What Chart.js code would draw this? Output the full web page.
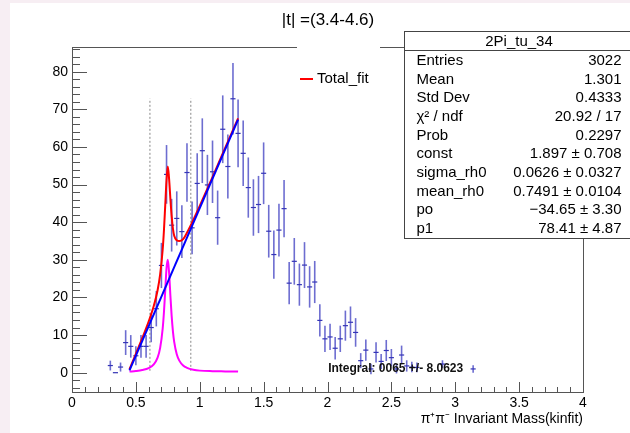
<!DOCTYPE html>
<html>
<head>
<meta charset="utf-8">
<script src="https://cdn.jsdelivr.net/npm/chart.js@4.4.1/dist/chart.umd.min.js"></script>
<style>
  html, body { margin: 0; padding: 0; background: #f7eef3; }
  #wrap { position: absolute; left: 10px; top: 3px; width: 620px; height: 430px; background: #fff; }
</style>
</head>
<body>
<div id="wrap"><canvas id="massChart" width="620" height="430"></canvas></div>
<script>
// histogram 2Pi_tu_34, bin width 0.04
const binWidth = 0.04;
const binCenters = [0.30, 0.34, 0.38, 0.42, 0.46, 0.50, 0.54, 0.58, 0.62, 0.66,
  0.70, 0.74, 0.78, 0.82, 0.86, 0.90, 0.94, 0.98, 1.02, 1.06,
  1.10, 1.14, 1.18, 1.22, 1.26, 1.30, 1.34, 1.38, 1.42, 1.46,
  1.50, 1.54, 1.58, 1.62, 1.66, 1.70, 1.74, 1.78, 1.82, 1.86,
  1.90, 1.94, 1.98, 2.02, 2.06, 2.10, 2.14, 2.18, 2.22, 2.26,
  2.30, 2.34, 2.38, 2.42, 2.46, 2.50, 2.54, 2.58, 2.62, 2.66,
  2.70, 2.90, 3.14];
const binCounts = [1.9, 0, 1.5, 8.0, 7.0, 4.5, 7.0, 7.0, 12.0, 17.0,
  28.5, 52.7, 39.2, 41.0, 37.5, 53.2, 38.5, 50.3, 59.0, 49.9,
  53.4, 41.2, 64.7, 54.8, 72.8, 63.6, 58.3, 49.2, 43.9, 44.7,
  53.0, 37.6, 31.4, 37.9, 43.6, 23.8, 29.6, 23.4, 28.6, 22.8,
  24.1, 13.9, 9.0, 9.5, 6.5, 9.0, 12.5, 13.4, 10.7, 3.2,
  6.0, 1.0, 5.4, 3.0, 5.9, 4.0, 1.0, 4.7, 1.8, 1.5,
  1.4, 2.3, 1.0];
const binErrors = [1.3, 0, 1.2, 3.3, 3.0, 2.5, 3.0, 3.0, 3.9, 4.7,
  6.0, 7.8, 7.0, 7.2, 7.0, 7.8, 7.0, 8.0, 8.6, 8.0,
  8.3, 7.2, 9.0, 8.5, 9.5, 9.0, 8.7, 8.0, 7.5, 7.6,
  8.2, 7.0, 6.4, 7.0, 7.6, 5.6, 6.2, 5.6, 6.1, 5.5,
  5.6, 4.3, 3.5, 3.5, 3.0, 3.5, 4.0, 4.2, 3.8, 2.0,
  2.8, 1.4, 2.7, 2.0, 2.8, 2.3, 1.2, 2.5, 1.5, 1.4,
  1.3, 1.0, 1.0];

// fit curves
const fitMass = [0.45, 0.50, 0.55, 0.60, 0.64, 0.67, 0.69, 0.71, 0.72, 0.73,
  0.74, 0.75, 0.76, 0.77, 0.78, 0.79, 0.80, 0.82, 0.84, 0.87,
  0.90, 0.95, 1.00, 1.10, 1.20, 1.30];
const totalFit = [0.9, 5.0, 9.2, 13.6, 17.7, 21.9, 26.1, 32.8, 38.0, 44.6,
  51.2, 54.8, 51.5, 46.3, 41.6, 38.3, 36.4, 35.2, 35.0, 35.5,
  37.2, 40.6, 44.3, 52.0, 59.8, 67.6];
const rhoFit = [0.3, 0.45, 0.7, 1.2, 2.2, 4.0, 6.6, 11.8, 16.2, 22.0,
  27.8, 30.0, 26.6, 20.6, 15.1, 11.0, 8.2, 4.9, 3.2, 1.9,
  1.3, 0.8, 0.55, 0.4, 0.35, 0.3];
const bkgMass = [0.45, 1.30];
const bkgFit = [0.63, 67.28];

// dotted window lines
const cutMass = [0.61, 0.93];
const cutRange = [0.5, 72.9];

const statLabels = ['Entries', 'Mean', 'Std Dev', 'χ² / ndf', 'Prob', 'const',
  'sigma_rh0', 'mean_rh0', 'po', 'p1'];
const statValues = ['3022', '1.301', '0.4333', '20.92 / 17', '0.2297', '1.897 ± 0.708',
  '0.0626 ± 0.0327', '0.7491 ± 0.0104', '−34.65 ± 3.30', '78.41 ± 4.87'];

const FONT = "'Liberation Sans', Arial, sans-serif";
Chart.defaults.font.family = FONT;

const pts = (xs, ys) => xs.map((x, i) => ({ x: x, y: ys[i] }));

const errorBars = {
  id: 'errorBars',
  beforeDatasetsDraw(chart) {
    const ctx = chart.ctx, xs = chart.scales.x, ys = chart.scales.y;
    ctx.save();
    binCenters.forEach((c, i) => {
      const px = xs.getPixelForValue(c);
      const py = ys.getPixelForValue(binCounts[i]);
      ctx.strokeStyle = '#3434b4';
      ctx.lineWidth = 1.2;
      ctx.beginPath();
      ctx.moveTo(xs.getPixelForValue(c - binWidth / 2), py);
      ctx.lineTo(xs.getPixelForValue(c + binWidth / 2), py);
      ctx.stroke();
      if (binErrors[i] > 0) {
        ctx.strokeStyle = 'rgba(52,52,190,0.72)';
        ctx.lineWidth = 1.6;
        ctx.beginPath();
        ctx.moveTo(px, ys.getPixelForValue(binCounts[i] + binErrors[i]));
        ctx.lineTo(px, ys.getPixelForValue(binCounts[i] - binErrors[i]));
        ctx.stroke();
      }
    });
    ctx.restore();
  }
};

const frameAndBoxes = {
  id: 'frameAndBoxes',
  afterDatasetsDraw(chart) {
    const ctx = chart.ctx, a = chart.chartArea;
    const xs = chart.scales.x, ys = chart.scales.y;
    ctx.save();
    // frame
    ctx.strokeStyle = '#555';
    ctx.lineWidth = 1;
    ctx.strokeRect(Math.round(a.left) + 0.5, Math.round(a.top) + 0.5,
      Math.round(a.right - a.left), Math.round(a.bottom - a.top));
    // ticks, inside the frame
    ctx.beginPath();
    for (let v = -4; v <= 86; v += 2) {
      const py = Math.round(ys.getPixelForValue(v)) + 0.5;
      const len = v % 10 === 0 ? 15 : 8;
      ctx.moveTo(a.left, py);
      ctx.lineTo(a.left + len, py);
    }
    for (let k = 0; k <= 40; k++) {
      const px = Math.round(xs.getPixelForValue(k / 10)) + 0.5;
      const len = k % 5 === 0 ? 10 : 5;
      ctx.moveTo(px, a.bottom);
      ctx.lineTo(px, a.bottom - len);
    }
    ctx.stroke();

    // integral label
    ctx.fillStyle = '#111';
    ctx.font = 'bold 12px ' + FONT;
    ctx.textAlign = 'left';
    ctx.textBaseline = 'middle';
    ctx.fillText('Integral: 0065 +/- 8.0623', xs.getPixelForValue(2.005), ys.getPixelForValue(1.0));

    // legend
    ctx.fillStyle = '#fff';
    ctx.fillRect(287, 38, 83, 50);
    ctx.strokeStyle = '#ff0000';
    ctx.lineWidth = 2;
    ctx.beginPath();
    ctx.moveTo(290, 76);
    ctx.lineTo(303, 76);
    ctx.stroke();
    ctx.fillStyle = '#000';
    ctx.font = '15px ' + FONT;
    ctx.fillText('Total_fit', 307, 76);

    // stats box
    ctx.fillStyle = '#fff';
    ctx.fillRect(394.5, 28.5, 230, 207);
    ctx.strokeStyle = '#444';
    ctx.lineWidth = 1;
    ctx.strokeRect(394.5, 28.5, 230, 207);
    ctx.beginPath();
    ctx.moveTo(394.5, 47.5);
    ctx.lineTo(624, 47.5);
    ctx.stroke();
    ctx.fillStyle = '#000';
    ctx.textAlign = 'center';
    ctx.fillText('2Pi_tu_34', 509, 39);
    statLabels.forEach((lab, i) => {
      const y = 57.7 + i * 18.7;
      ctx.textAlign = 'left';
      ctx.fillText(lab, 406.5, y);
      ctx.textAlign = 'right';
      ctx.fillText(statValues[i], 611.5, y);
    });

    // title
    ctx.textAlign = 'center';
    ctx.font = '17px ' + FONT;
    ctx.fillText('|t| =(3.4-4.6)', 318, 17);
    ctx.restore();
  }
};

new Chart(document.getElementById('massChart'), {
  type: 'scatter',
  data: {
    datasets: [
      { data: pts(bkgMass, bkgFit), showLine: true, borderColor: '#0000ff', borderWidth: 2, pointRadius: 0 },
      { data: pts(fitMass, totalFit), showLine: true, borderColor: '#ff0000', borderWidth: 2, pointRadius: 0,
        cubicInterpolationMode: 'monotone' },
      { data: pts(fitMass, rhoFit), showLine: true, borderColor: '#ff00ff', borderWidth: 2, pointRadius: 0,
        cubicInterpolationMode: 'monotone' },
      { data: pts([cutMass[0], cutMass[0]], cutRange), showLine: true, borderColor: '#888', borderWidth: 1,
        borderDash: [2, 2], pointRadius: 0 },
      { data: pts([cutMass[1], cutMass[1]], cutRange), showLine: true, borderColor: '#888', borderWidth: 1,
        borderDash: [2, 2], pointRadius: 0 }
    ]
  },
  options: {
    responsive: false,
    animation: false,
    devicePixelRatio: 1,
    layout: { padding: { top: 44, right: 47, left: 0, bottom: 0 } },
    plugins: {
      legend: { display: false },
      tooltip: { enabled: false }
    },
    scales: {
      x: {
        type: 'linear', min: 0, max: 4,
        grid: { display: false, drawTicks: false },
        border: { display: false },
        ticks: { stepSize: 0.5, color: '#000', font: { size: 14 }, padding: 3, maxRotation: 0, autoSkip: false,
          callback: v => String(Math.round(v * 10) / 10) },
        title: { display: true, text: 'π⁺π⁻ Invariant Mass(kinfit)', align: 'end', color: '#000',
          font: { size: 14 }, padding: { top: 0, bottom: 5 } },
        afterFit(s) { s.height = 41; }
      },
      y: {
        type: 'linear', min: -5.13, max: 86.56,
        grid: { display: false, drawTicks: false },
        border: { display: false },
        ticks: { stepSize: 10, color: '#000', font: { size: 14 }, padding: 4, autoSkip: false,
          callback: v => (v >= 0 && v <= 80 && v % 10 === 0) ? v : '' },
        afterFit(s) { s.width = 62; }
      }
    }
  },
  plugins: [errorBars, frameAndBoxes]
});
</script>
</body>
</html>
